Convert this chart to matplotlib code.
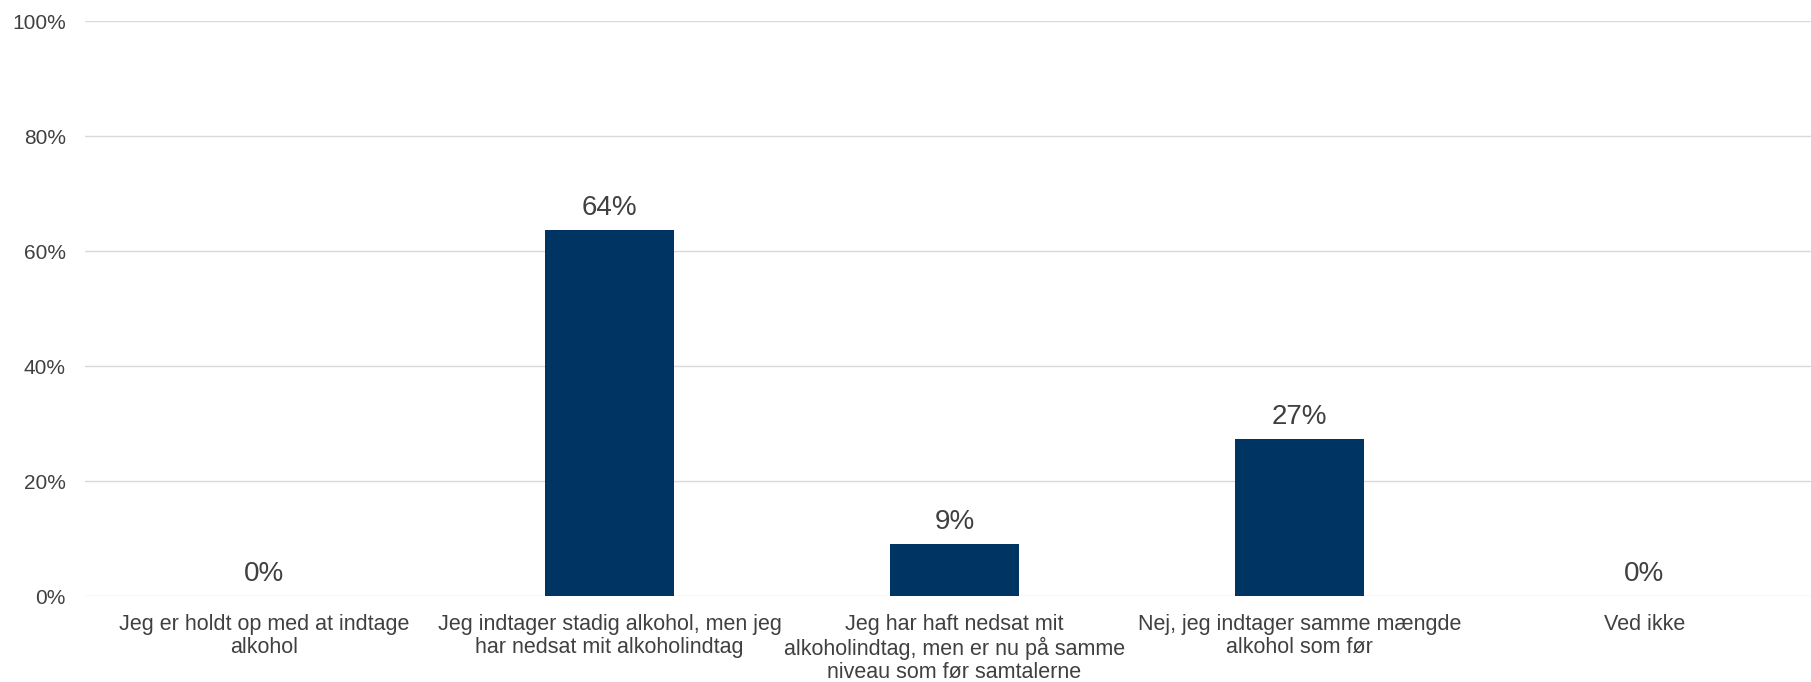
import matplotlib
matplotlib.use("Agg")
import matplotlib.pyplot as plt
from matplotlib.ticker import FuncFormatter

# ── data ─────────────────────────────────────────────────────────────────────
categories = [
    "Jeg er holdt op med at indtage\nalkohol",
    "Jeg indtager stadig alkohol, men jeg\nhar nedsat mit alkoholindtag",
    "Jeg har haft nedsat mit\nalkoholindtag, men er nu på samme\nniveau som før samtalerne",
    "Nej, jeg indtager samme mængde\nalkohol som før",
    "Ved ikke",
]
values = [0.0, 63.64, 9.09, 27.27, 0.0]
yticks = [0, 20, 40, 60, 80, 100]

BAR_COLOR  = "#003462"
TEXT_COLOR = "#404040"
GRID_COLOR = "#D9D9D9"

plt.rcParams["font.family"] = ["Liberation Sans", "DejaVu Sans"]

fig = plt.figure(figsize=(18.11, 6.82), dpi=100)
ax = fig.add_axes([0.047, 0.126, 0.96, 0.843])

x = list(range(len(categories)))
ax.bar(x, values, width=0.375, color=BAR_COLOR, zorder=3)

# value labels above each bar
for xi, v in zip(x, values):
    ax.annotate(f"{v:.0f}%", xy=(xi, v), xytext=(0, 16), textcoords="offset points",
                ha="center", va="center", fontsize=20, color=TEXT_COLOR)

ax.set_ylim(0, 100)
ax.set_xlim(-0.52, 4.52)
ax.set_yticks(yticks)
ax.yaxis.set_major_formatter(FuncFormatter(lambda v, _: f"{v:.0f}%"))
ax.grid(axis="y", color=GRID_COLOR, lw=1.0, zorder=0)
ax.set_xticks(x)
ax.set_xticklabels(categories, fontsize=15.5, color=TEXT_COLOR, linespacing=1.12)
ax.tick_params(axis="y", labelsize=15, colors=TEXT_COLOR, length=0, pad=14)
ax.tick_params(axis="x", length=0, pad=13)
for s in ax.spines.values():
    s.set_visible(False)

fig.savefig("out.png", dpi=100, facecolor="white")
